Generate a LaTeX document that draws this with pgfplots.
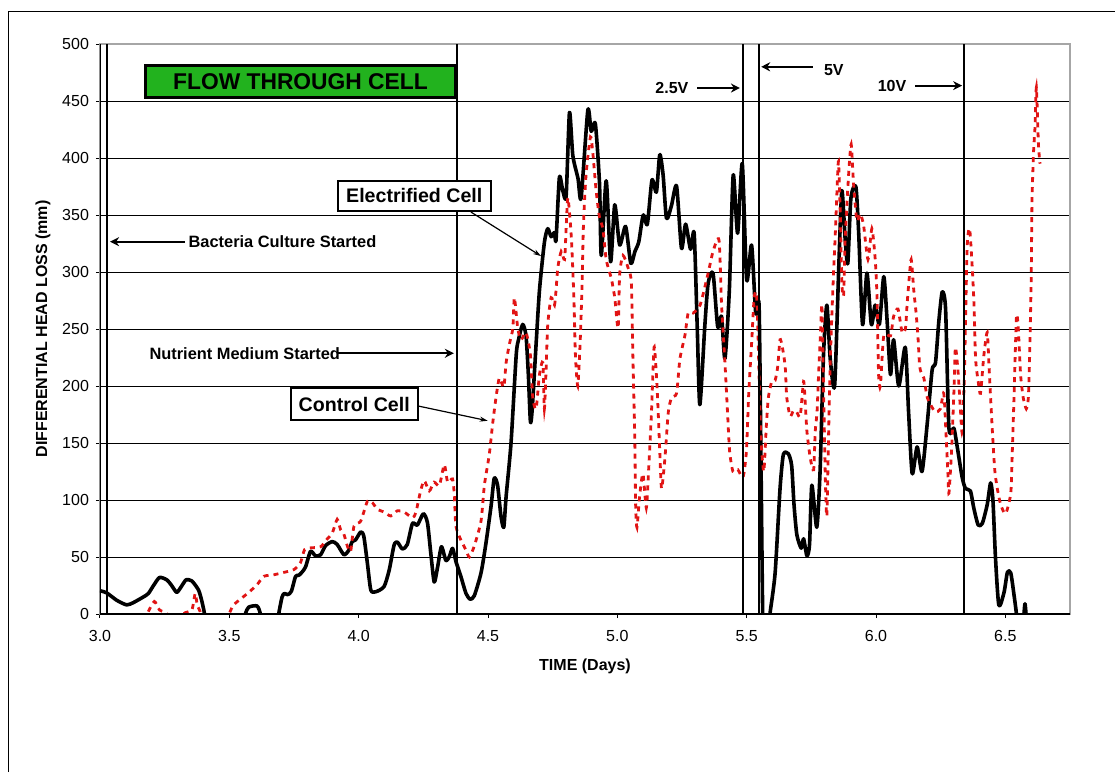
\documentclass[border=0pt]{standalone}
\usepackage{fontspec}
\setmainfont{Liberation Sans}
\usepackage{pgfplots}
\pgfplotsset{compat=1.18}
\usetikzlibrary{arrows.meta}
\definecolor{ctrlred}{RGB}{225,20,20}
\definecolor{flowgreen}{RGB}{34,178,30}
\begin{document}
\begin{tikzpicture}
\path[use as bounding box] (0,0) rectangle (557.5pt,386pt);
\draw[line width=0.5pt] (4pt,0) -- (4pt,380pt) -- (557.5pt,380pt);
\begin{axis}[
  at={(50pt,79pt)}, anchor=south west, scale only axis,
  width=485pt, height=285pt,
  xmin=3, xmax=6.75, ymin=0, ymax=500,
  xtick={3,3.5,...,6.5}, ytick={0,50,...,500},
  tick pos=left, tick align=outside, major tick length=2pt,
  ymajorgrids, grid style={black, line width=0.5pt},
  axis line style={draw=gray!70, line width=0.6pt},
  tick style={black, line width=0.5pt},
  /pgf/number format/assume math mode=true,
  xticklabel style={/pgf/number format/.cd, fixed, fixed zerofill, precision=1},
  xticklabel shift=2.5pt,
  ticklabel style={font=\fontsize{8}{9.6}\selectfont},
  xlabel={TIME (Days)}, ylabel={DIFFERENTIAL HEAD LOSS (mm)},
  label style={font=\bfseries\fontsize{8}{9.6}\selectfont},
  xlabel style={at={(axis description cs:0.5,-0.0912)}, anchor=center},
  ylabel style={at={(axis description cs:-0.0588,0.5)}, anchor=center},
]
% Electrified cell (black)
\addplot[black, line width=1.8pt, line join=round, smooth, tension=0.4] coordinates {
(3.0,20.4) (3.026,18.5) (3.065,12) (3.103,8) (3.129,10) (3.168,15) (3.187,18) (3.207,25) (3.23,32) (3.258,30) (3.277,25) (3.297,19) (3.317,25) (3.333,30) (3.355,29) (3.381,21) (3.394,11) (3.404,0) (3.41,-15) (3.555,-15) (3.562,0) (3.575,6) (3.607,7) (3.62,0) (3.625,-15) (3.685,-15) (3.691,0) (3.704,15) (3.713,18) (3.726,17) (3.74,20) (3.756,33) (3.769,34) (3.782,37) (3.795,41.5) (3.814,55) (3.833,51) (3.853,52) (3.872,60) (3.898,63.5) (3.917,61) (3.943,52) (3.962,56) (3.975,63.5) (3.988,65) (4.008,72) (4.02,68) (4.034,44) (4.047,21) (4.066,19.5) (4.098,24) (4.118,38.5) (4.137,60.5) (4.15,63) (4.169,57) (4.188,61) (4.208,79.5) (4.227,78) (4.25,88) (4.266,80) (4.279,53) (4.292,28) (4.305,41) (4.32,59) (4.337,47) (4.35,50) (4.363,57.6) (4.376,46) (4.395,33) (4.415,18) (4.431,13) (4.447,16) (4.473,36) (4.492,62) (4.512,95) (4.524,119) (4.537,113) (4.55,86) (4.561,76) (4.57,103) (4.589,150) (4.609,227) (4.618,240.6) (4.634,254) (4.647,244) (4.656,210) (4.664,168.5) (4.671,180) (4.686,237) (4.699,284) (4.718,326) (4.731,338) (4.744,331) (4.757,334.6) (4.763,328) (4.776,383) (4.789,371.5) (4.802,366.5) (4.815,440) (4.828,402) (4.848,382) (4.86,365) (4.886,442) (4.899,423.5) (4.915,430) (4.931,378) (4.938,314.5) (4.957,380) (4.974,309) (4.99,359) (5.009,323.7) (5.032,340) (5.052,307.6) (5.068,318) (5.083,326.6) (5.1,350) (5.116,342) (5.134,380.7) (5.151,370) (5.164,403) (5.177,385) (5.19,347) (5.209,358) (5.229,375.4) (5.248,320.8) (5.264,342) (5.283,320) (5.297,334) (5.309,250.7) (5.319,183.6) (5.338,252) (5.351,290) (5.37,298.8) (5.388,252) (5.403,261) (5.416,224) (5.433,284) (5.448,385) (5.465,334) (5.483,395) (5.5,293) (5.519,323.7) (5.535,263.8) (5.548,270) (5.556,120) (5.562,0) (5.567,-15) (5.585,-15) (5.59,0) (5.61,36) (5.629,110) (5.642,140) (5.661,140.6) (5.674,130) (5.683,96) (5.694,69.5) (5.711,57.7) (5.72,66) (5.733,51) (5.743,61) (5.752,113) (5.771,76) (5.784,126.5) (5.797,227) (5.81,271) (5.823,224) (5.84,200) (5.856,304) (5.868,371.5) (5.881,328) (5.891,307.7) (5.903,364.8) (5.922,375) (5.933,334.6) (5.948,254) (5.965,299) (5.982,254) (5.997,271) (6.013,254) (6.03,296) (6.043,257) (6.056,210) (6.068,240.6) (6.088,200) (6.113,234) (6.126,177) (6.14,123) (6.159,146.6) (6.178,125) (6.198,167) (6.217,214) (6.23,220.5) (6.243,257) (6.256,282.6) (6.269,267.5) (6.282,163) (6.301,163) (6.314,146.6) (6.333,120) (6.346,110) (6.365,108) (6.378,93) (6.395,78) (6.411,79.5) (6.43,96) (6.443,115) (6.452,100) (6.462,49) (6.475,7.4) (6.495,19) (6.508,36.6) (6.521,36) (6.534,16) (6.543,0) (6.548,-15) (6.568,-15) (6.572,0) (6.576,9) (6.58,0) (6.585,-15)
};
% Control cell (red dotted)
\addplot[ctrlred, line width=1.4pt, dash pattern=on 2.5pt off 2.5pt, smooth, tension=0.4] coordinates {
(3.17,-15) (3.183,0) (3.21,11) (3.23,3.5) (3.26,0) (3.265,-15) (3.318,-15) (3.323,0) (3.355,3.5) (3.368,18) (3.376,8) (3.39,0) (3.395,-15) (3.495,-15) (3.5,0) (3.517,8) (3.543,13) (3.575,19) (3.607,25.6) (3.633,33) (3.672,34.4) (3.711,36.5) (3.75,39) (3.775,45) (3.791,56.5) (3.814,58) (3.853,59) (3.879,66) (3.898,71) (3.917,83) (3.93,74) (3.943,70) (3.956,59.7) (3.969,55) (3.982,77) (4.008,81.5) (4.034,99) (4.053,97.6) (4.072,92) (4.098,89.4) (4.124,86) (4.15,90.6) (4.176,89.4) (4.208,84.4) (4.221,89) (4.238,106.5) (4.253,117) (4.273,108) (4.292,115.6) (4.312,112.6) (4.331,131) (4.344,115.6) (4.363,118.5) (4.37,103.6) (4.376,77) (4.395,65) (4.415,56) (4.428,50) (4.447,59.7) (4.473,81.5) (4.486,113) (4.505,140) (4.518,167) (4.531,190) (4.544,207) (4.561,199) (4.57,220.5) (4.583,237) (4.596,250.7) (4.602,277.5) (4.615,250.7) (4.628,240.6) (4.647,247) (4.664,227) (4.673,190) (4.686,180) (4.699,210) (4.712,220.5) (4.718,180) (4.725,217) (4.731,254) (4.744,277.5) (4.757,271) (4.763,284) (4.77,304) (4.783,318) (4.796,311) (4.802,338) (4.809,365) (4.822,331) (4.832,277.5) (4.838,227) (4.847,200) (4.856,237) (4.863,284) (4.869,341) (4.879,385) (4.896,418.5) (4.905,405) (4.918,371.5) (4.931,348) (4.944,338) (4.957,311) (4.977,294) (4.99,277.5) (5.003,250.7) (5.009,298) (5.022,314.5) (5.041,304) (5.054,291) (5.06,227) (5.067,160) (5.071,93) (5.076,76) (5.086,103) (5.099,123) (5.112,93) (5.121,126.5) (5.132,177) (5.142,234) (5.151,210) (5.158,177) (5.164,143) (5.171,110) (5.184,136.6) (5.197,177) (5.21,190) (5.229,193.6) (5.242,224) (5.261,244) (5.274,264) (5.293,264) (5.32,271) (5.35,298) (5.37,318) (5.393,328) (5.403,271) (5.416,220.5) (5.426,177) (5.434,143) (5.447,125) (5.466,126.5) (5.486,120) (5.499,143) (5.508,193.6) (5.519,237) (5.529,277.5) (5.538,281) (5.544,244) (5.554,160) (5.566,125) (5.576,165) (5.584,190) (5.597,204) (5.61,205) (5.62,217) (5.629,240.6) (5.638,234) (5.649,217) (5.655,190) (5.668,173.5) (5.681,178.5) (5.694,177) (5.707,173.5) (5.72,204) (5.726,187) (5.733,160) (5.746,136.6) (5.759,126.5) (5.765,160) (5.772,177) (5.778,210) (5.785,244) (5.791,271) (5.797,200) (5.804,120) (5.81,86) (5.817,160) (5.823,220) (5.829,260) (5.836,300) (5.842,330) (5.849,370) (5.855,397) (5.862,350) (5.868,290) (5.875,280) (5.881,330) (5.894,385) (5.904,412) (5.913,378) (5.926,345) (5.939,351) (5.952,341) (5.969,311) (5.984,338) (5.997,311) (6.004,277.5) (6.01,210) (6.017,200) (6.03,244) (6.056,244) (6.068,261) (6.085,267.5) (6.101,247) (6.114,250.7) (6.12,271) (6.127,291) (6.136,311) (6.146,284) (6.155,264) (6.162,244) (6.169,217) (6.178,210) (6.185,207) (6.198,190) (6.211,183.6) (6.23,177) (6.249,180) (6.262,193.6) (6.271,156.7) (6.278,123) (6.282,106) (6.292,143) (6.301,193.6) (6.307,234) (6.318,210) (6.327,177) (6.333,160) (6.342,210) (6.346,257) (6.353,324.5) (6.362,338) (6.372,304) (6.379,271) (6.385,224) (6.395,204) (6.404,193.6) (6.417,227) (6.43,247) (6.437,217) (6.443,190) (6.45,160) (6.459,126.5) (6.469,110) (6.482,96) (6.501,88) (6.521,106) (6.527,143) (6.534,193.6) (6.543,261) (6.55,250.7) (6.559,210) (6.569,190) (6.581,180) (6.589,190) (6.594,227) (6.6,294) (6.603,361) (6.609,405) (6.615,428.5) (6.62,462) (6.628,412) (6.634,395)
};
% event lines
\foreach \xv in {3.027,4.379,5.486,5.548,6.341}{
  \edef\tmp{\noexpand\draw[black, line width=0.85pt] (axis cs:\xv,0) -- (axis cs:\xv,500);}\tmp
}
\draw[black, line width=0.6pt] (rel axis cs:0,1) -- (rel axis cs:0,0) -- (rel axis cs:1,0);
% annotations
\node[draw, fill=flowgreen, line width=1.5pt, minimum width=155pt, minimum height=16pt, inner sep=0pt,
  font=\bfseries\fontsize{11.4}{12}\selectfont] at (axis cs:3.775,467) {FLOW THROUGH CELL};
\node[draw, fill=white, line width=0.75pt, minimum width=76.5pt, minimum height=15pt, inner sep=0pt,
  font=\bfseries\fontsize{9.8}{11}\selectfont] at (axis cs:4.215,366.7) {Electrified Cell};
\draw[line width=0.6pt, -{Stealth[length=4pt,width=2.5pt]}] (axis cs:4.434,352.6) -- (axis cs:4.705,314);
\node[draw, fill=white, line width=0.75pt, minimum width=63.5pt, minimum height=16pt, inner sep=0pt,
  font=\bfseries\fontsize{9.8}{11}\selectfont] at (axis cs:3.983,184) {Control Cell};
\draw[line width=0.6pt, -{Stealth[length=4pt,width=2.5pt]}] (axis cs:4.229,182.5) -- (axis cs:4.499,169.5);
\node[anchor=west, inner sep=0pt, font=\bfseries\fontsize{8.2}{9}\selectfont] at (axis cs:3.341,326.6) {Bacteria Culture Started};
\draw[line width=1pt, -{Stealth[length=4.5pt,width=4.5pt]}] (axis cs:3.329,326.6) -- (axis cs:3.039,326.6);
\node[anchor=west, inner sep=0pt, font=\bfseries\fontsize{8.2}{9}\selectfont] at (axis cs:3.19,228.7) {Nutrient Medium Started};
\draw[line width=1pt, -{Stealth[length=4.5pt,width=4.5pt]}] (axis cs:3.922,228.7) -- (axis cs:4.368,228.7);
\node[inner sep=0pt, font=\bfseries\fontsize{8}{9}\selectfont] at (axis cs:5.211,461.4) {2.5V};
\draw[line width=1pt, -{Stealth[length=4.5pt,width=4.5pt]}] (axis cs:5.309,461.4) -- (axis cs:5.474,461.4);
\node[inner sep=0pt, font=\bfseries\fontsize{8}{9}\selectfont] at (axis cs:5.837,477) {5V};
\draw[line width=1pt, -{Stealth[length=4.5pt,width=4.5pt]}] (axis cs:5.755,480) -- (axis cs:5.556,480);
\node[inner sep=0pt, font=\bfseries\fontsize{8}{9}\selectfont] at (axis cs:6.062,463.5) {10V};
\draw[line width=1pt, -{Stealth[length=4.5pt,width=4.5pt]}] (axis cs:6.152,463.5) -- (axis cs:6.333,463.5);
\end{axis}
\end{tikzpicture}
\end{document}
